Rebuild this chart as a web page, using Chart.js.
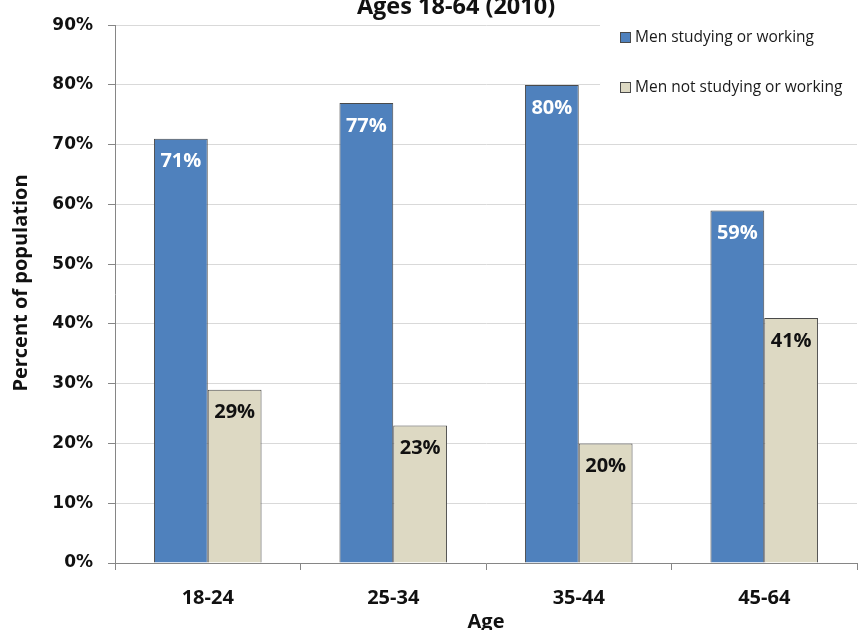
<!DOCTYPE html>
<html>
<head>
<meta charset="utf-8">
<script src="https://cdn.jsdelivr.net/npm/chart.js@4.4.1/dist/chart.umd.min.js"></script>
<style>
  html, body { margin: 0; padding: 0; background: #fff; }
  #wrap { width: 863px; height: 630px; position: relative; }
</style>
</head>
<body>
<div id="wrap"><canvas id="chart"></canvas></div>
<script>
// Men ages 18-64 studying or working (2010)
const ageGroups = ['18-24', '25-34', '35-44', '45-64'];
const working = [71, 77, 80, 59];
const notWorking = [29, 23, 20, 41];
const yTicks = [0, 10, 20, 30, 40, 50, 60, 70, 80, 90];

const blue = '#4f81bd';
const tan = '#ddd9c3';
const edge = '#4a4a4a';
const axisGray = '#868686';
const gridGray = '#d9d9d9';
const font = '"Open Sans", "DejaVu Sans", sans-serif';

// title, axis titles, legend and value labels
const decorations = {
  id: 'decorations',
  afterDatasetsDraw(chart) {
    const ctx = chart.ctx;
    const area = chart.chartArea;
    ctx.save();

    // value labels inside bar tops
    chart.data.datasets.forEach((ds, i) => {
      chart.getDatasetMeta(i).data.forEach((bar, j) => {
        ctx.font = 'bold 20px ' + font;
        ctx.textAlign = 'center';
        ctx.textBaseline = 'middle';
        ctx.fillStyle = i === 0 ? '#ffffff' : '#111111';
        ctx.fillText(ds.data[j] + '%', bar.x, bar.y + 23);
      });
    });

    // legend, on a white box over the grid
    ctx.fillStyle = '#ffffff';
    ctx.fillRect(600, 10, 263, 100);
    const items = [
      { label: 'Men studying or working', color: blue, y: 38 },
      { label: 'Men not studying or working', color: tan, y: 88 }
    ];
    items.forEach(it => {
      ctx.fillStyle = it.color;
      ctx.fillRect(620.5, it.y - 5.5, 10, 10);
      ctx.strokeStyle = edge;
      ctx.lineWidth = 1;
      ctx.strokeRect(620.5, it.y - 5.5, 10, 10);
      ctx.fillStyle = '#1a1a1a';
      ctx.font = '15.5px ' + font;
      ctx.textAlign = 'left';
      ctx.textBaseline = 'middle';
      ctx.fillText(it.label, 635, it.y);
    });

    // chart title (clipped at the top as in the source)
    ctx.fillStyle = '#111111';
    ctx.font = 'bold 23.5px ' + font;
    ctx.textAlign = 'center';
    ctx.textBaseline = 'middle';
    ctx.fillText('Ages 18-64 (2010)', 456, 7);

    // x axis title
    ctx.font = 'bold 20px ' + font;
    ctx.fillText('Age', (area.left + area.right) / 2, 622);

    // y axis title
    ctx.translate(21, 283);
    ctx.rotate(-Math.PI / 2);
    ctx.font = 'bold 20px ' + font;
    ctx.fillText('Percent of population', 0, 0);
    ctx.restore();
  }
};

new Chart(document.getElementById('chart'), {
  type: 'bar',
  data: {
    labels: ageGroups,
    datasets: [
      {
        label: 'Men studying or working',
        data: working,
        backgroundColor: blue,
        borderColor: edge,
        borderWidth: 1,
        categoryPercentage: 0.58,
        barPercentage: 1
      },
      {
        label: 'Men not studying or working',
        data: notWorking,
        backgroundColor: tan,
        borderColor: edge,
        borderWidth: 1,
        categoryPercentage: 0.58,
        barPercentage: 1
      }
    ]
  },
  options: {
    responsive: true,
    maintainAspectRatio: false,
    animation: false,
    layout: { padding: { top: 23, right: 6, left: 0, bottom: 0 } },
    plugins: {
      legend: { display: false },
      tooltip: { enabled: false }
    },
    scales: {
      x: {
        grid: {
          drawOnChartArea: false,
          drawTicks: true,
          tickLength: 7,
          color: axisGray
        },
        border: { color: axisGray },
        ticks: {
          color: '#111111',
          font: { family: font, size: 20, weight: 'bold' },
          padding: 16
        },
        afterFit(scale) { scale.height = 67; }
      },
      y: {
        min: 0,
        max: 90,
        afterBuildTicks(scale) { scale.ticks = yTicks.map(v => ({ value: v })); },
        grid: {
          color: gridGray,
          tickColor: axisGray,
          tickLength: 7
        },
        border: { color: axisGray },
        ticks: {
          color: '#111111',
          font: { family: '"DejaVu Sans", sans-serif', size: 17, weight: 'bold' },
          padding: 15,
          callback: v => v + '%'
        },
        afterFit(scale) { scale.width = 115; }
      }
    }
  },
  plugins: [decorations]
});
</script>
</body>
</html>
